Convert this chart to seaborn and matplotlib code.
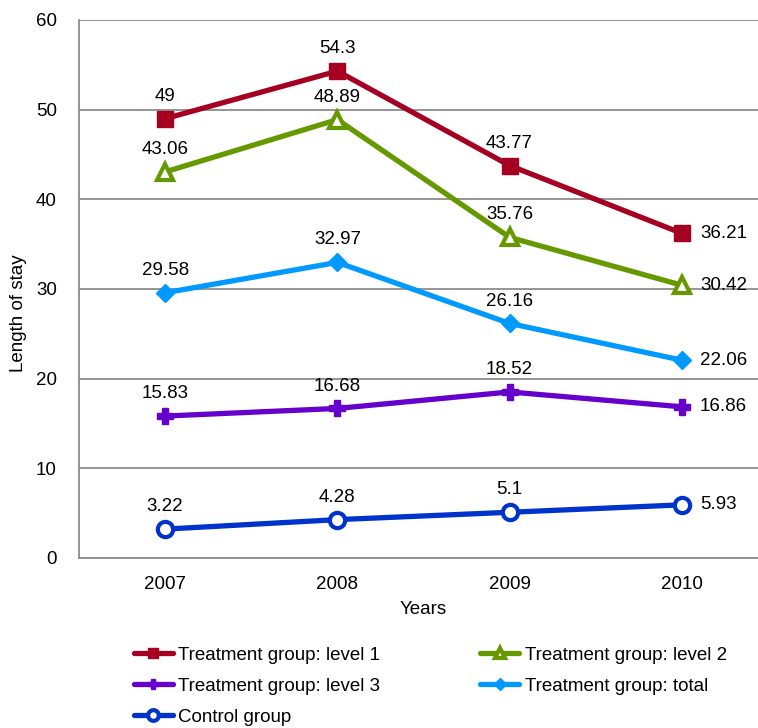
import numpy as np
import pandas as pd
import seaborn as sns
import matplotlib.pyplot as plt
from matplotlib.ticker import FixedLocator

years = ["2007", "2008", "2009", "2010"]
level1 = [49, 54.3, 43.77, 36.21]
level2 = [43.06, 48.89, 35.76, 30.42]
level3 = [15.83, 16.68, 18.52, 16.86]
total = [29.58, 32.97, 26.16, 22.06]
control = [3.22, 4.28, 5.1, 5.93]

series = [
    ("Treatment group: level 1", level1, "#A50021", "s", None),
    ("Treatment group: level 2", level2, "#669900", "^", "white"),
    ("Treatment group: level 3", level3, "#6600CC", "P", None),
    ("Treatment group: total", total, "#0099FF", "D", None),
    ("Control group", control, "#0033CC", "o", "white"),
]

sns.set_style("white", {"text.color": "black", "axes.labelcolor": "black",
                        "xtick.color": "black", "ytick.color": "black"})
plt.rcParams["font.family"] = ["Liberation Sans", "DejaVu Sans"]
fs = 13.5

fig = plt.figure(figsize=(7.58, 7.28), dpi=100)
ax = fig.add_axes([79 / 758, 170 / 728, 689 / 758, 538 / 728])

x = np.arange(len(years))
handles = {}
for name, vals, color, marker, face in series:
    df = pd.DataFrame({"year": x, "value": vals})
    sns.lineplot(data=df, x="year", y="value", ax=ax, color=color, linewidth=3.8,
                 marker=marker, markersize=11 if marker != "D" else 9,
                 markerfacecolor=face if face else color,
                 markeredgecolor=color, markeredgewidth=3 if face else 1,
                 label=name, legend=False)
    handles[name] = ax.lines[-1]
    for i, v in enumerate(vals):
        if i == len(vals) - 1:
            ax.annotate(f"{v:g}", (x[i], v), xytext=(13, 0), textcoords="offset points",
                        ha="left", va="center", fontsize=fs)
        else:
            ax.annotate(f"{v:g}", (x[i], v), xytext=(0, 10), textcoords="offset points",
                        ha="center", va="bottom", fontsize=fs)

ax.set_xlim(-0.5, 3.5)
ax.set_ylim(0, 60)
ax.set_yticks(range(0, 61, 10))
ax.set_xticks(x)
ax.set_xticklabels(years)
ax.xaxis.set_minor_locator(FixedLocator([-0.5, 0.5, 1.5, 2.5, 3.5]))
ax.tick_params(axis="x", which="major", length=0, labelsize=fs, pad=13)
ax.tick_params(axis="x", which="minor", length=5, width=1.2, color="#888888", direction="out")
ax.tick_params(axis="y", length=6, width=1.2, color="#888888", direction="out", labelsize=fs, pad=10)
ax.yaxis.grid(True, color="#8c8c8c", linewidth=1.3)
ax.set_axisbelow(True)
for side in ["top", "right"]:
    ax.spines[side].set_visible(False)
for side in ["left", "bottom"]:
    ax.spines[side].set_color("#8c8c8c")
    ax.spines[side].set_linewidth(1.3)
ax.set_xlabel("Years", fontsize=fs, labelpad=6)
ax.set_ylabel("Length of stay", fontsize=fs)
ax.yaxis.set_label_coords(-0.0755, 0.455)

order = ["Treatment group: level 1", "Treatment group: level 3", "Control group",
         "Treatment group: level 2", "Treatment group: total"]
fig.legend([handles[n] for n in order], order, loc="upper left",
           bbox_to_anchor=(126 / 758, 1 - 639 / 728), ncol=2, frameon=False,
           fontsize=fs, handlelength=2.1, handletextpad=0.3, columnspacing=5.3,
           labelspacing=0.75, borderaxespad=0, markerscale=0.7)

fig.savefig("out.png", dpi=100)
